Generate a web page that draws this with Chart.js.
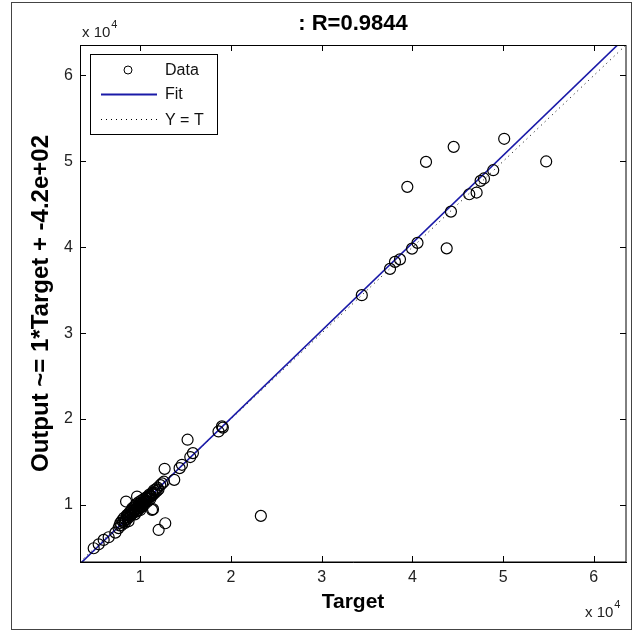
<!DOCTYPE html>
<html>
<head>
<meta charset="utf-8">
<script src="https://cdn.jsdelivr.net/npm/chart.js@4.4.0/dist/chart.umd.min.js"></script>
<style>
  html, body { margin: 0; padding: 0; background: #fff; }
</style>
</head>
<body>
<canvas id="regression" width="633" height="632"></canvas>
<script>
// axis limits (same for both axes, as MATLAB does)
const axisMin = 3350;
const axisMax = 63550;

const tickValues = [10000, 20000, 30000, 40000, 50000, 60000];
const tickLabels = ["1", "2", "3", "4", "5", "6"];

// scatter data
const targetValues = [
  50120, 44550, 41500, 54750, 39440, 48910, 47890, 47520, 47080, 46270,
  44250, 43780, 40560, 39960, 38630, 38080, 37530, 34420,
  19000, 18620, 19100, 15210, 15800, 15510, 14590, 14330, 12680, 13740, 23290,
  11400, 12750, 12020, 8430, 9640, 4860, 5410, 5960, 6510, 7250, 11290,
  7600, 7800, 7900, 8100, 8200, 8300, 8400, 8500, 8600, 8700,
  8800, 8900, 9000, 9000, 9100, 9200, 9300, 9400, 9400, 9500,
  9600, 9700, 9700, 9800, 9900, 10000, 10000, 10100, 10200, 10300,
  10400, 10500, 10600, 10700, 10800, 10900, 11000, 11100, 11200, 11300,
  11400, 11500, 11600, 11700, 11800, 11900, 12000, 12200, 12400, 12600,
  7700, 8000, 8250, 8550, 8750, 8950, 9150, 9350, 9550, 9750,
  9950, 10150, 10350, 10550, 10750, 10950, 11150, 11350, 9250, 9850,
  10450, 8650, 10050, 10650, 11050
];
const outputValues = [
  52630, 51690, 49940, 49990, 47030, 48970, 48010, 47730, 46370, 46170,
  44150, 39870, 40510, 39840, 38590, 38300, 37480, 34420,
  19140, 18550, 19000, 17590, 16030, 15570, 14670, 14280, 14200, 12920, 8720,
  9500, 7860, 7080, 10390, 10970, 4950, 5410, 5920, 6230, 6770, 9420,
  7300, 7900, 7600, 8000, 8500, 7900, 8300, 8800, 8400, 8100,
  9100, 8700, 9300, 8900, 9600, 9100, 9400, 9900, 8900, 9500,
  10100, 9300, 9800, 10300, 9600, 10000, 9400, 10500, 9800, 10200,
  10700, 10100, 10500, 10900, 10400, 10800, 11200, 10700, 11000, 11400,
  11200, 11700, 11400, 11800, 11600, 12000, 11800, 12300, 12500, 12700,
  7600, 8200, 8100, 8600, 8800, 9000, 9000, 9300, 9200, 9600,
  9800, 10000, 10400, 10300, 10700, 11000, 11000, 11300, 9700, 10100,
  10400, 8900, 10200, 10800, 11100
];

// fit line and Y = T line end points
const fitTarget = [3350, 63550];
const fitOutput = [3126, 64500];
const identityTarget = [3350, 63550];
const identityOutput = [3350, 63550];

const fitColor = "#1a1aa8";
const fontFamily = "Arial, 'Liberation Sans', Helvetica, sans-serif";

const toPoints = (xs, ys) => xs.map((x, i) => ({ x: x, y: ys[i] }));

// box, inward ticks, title, exponent labels, legend, outer frame
const matlabDecor = {
  id: "matlabDecor",
  beforeDraw(chart) {
    const ctx = chart.ctx;
    ctx.save();
    ctx.fillStyle = "#fff";
    ctx.fillRect(0, 0, chart.width, chart.height);
    ctx.restore();
  },
  afterDraw(chart) {
    const ctx = chart.ctx;
    const area = chart.chartArea;
    const xs = chart.scales.x;
    const ys = chart.scales.y;
    ctx.save();

    // outer frame
    ctx.strokeStyle = "#444";
    ctx.lineWidth = 1;
    ctx.strokeRect(11.5, 2.5, 620, 627);

    // axes box
    ctx.strokeStyle = "#000";
    ctx.strokeRect(area.left + 0.5, area.top + 0.5, area.right - area.left - 0.5, area.bottom - area.top - 0.5);

    // ticks pointing inward on all four sides
    const tl = 6;
    ctx.beginPath();
    tickValues.forEach(v => {
      const px = Math.round(xs.getPixelForValue(v)) + 0.5;
      ctx.moveTo(px, area.bottom);
      ctx.lineTo(px, area.bottom - tl);
      ctx.moveTo(px, area.top);
      ctx.lineTo(px, area.top + tl);
      const py = Math.round(ys.getPixelForValue(v)) + 0.5;
      ctx.moveTo(area.left, py);
      ctx.lineTo(area.left + tl, py);
      ctx.moveTo(area.right, py);
      ctx.lineTo(area.right - tl, py);
    });
    ctx.stroke();

    // title
    ctx.fillStyle = "#000";
    ctx.font = "bold 22px " + fontFamily;
    ctx.textAlign = "center";
    ctx.textBaseline = "alphabetic";
    ctx.fillText(": R=0.9844", (area.left + area.right) / 2, 30);

    // exponent labels
    ctx.fillStyle = "#222";
    ctx.textAlign = "left";
    ctx.font = "15px " + fontFamily;
    let w = ctx.measureText("x 10").width;
    ctx.fillText("x 10", 82, 37);
    ctx.font = "11px " + fontFamily;
    ctx.fillText("4", 82 + w + 1, 28);
    ctx.font = "15px " + fontFamily;
    ctx.fillText("x 10", 585, 617);
    ctx.font = "11px " + fontFamily;
    ctx.fillText("4", 585 + w + 1, 608);

    // legend
    ctx.fillStyle = "#fff";
    ctx.fillRect(90.5, 54.5, 127, 80);
    ctx.strokeStyle = "#000";
    ctx.lineWidth = 1;
    ctx.strokeRect(90.5, 54.5, 127, 80);

    ctx.beginPath();
    ctx.arc(128, 70, 4, 0, Math.PI * 2);
    ctx.stroke();

    ctx.strokeStyle = fitColor;
    ctx.lineWidth = 2;
    ctx.beginPath();
    ctx.moveTo(101, 94.5);
    ctx.lineTo(157, 94.5);
    ctx.stroke();

    ctx.strokeStyle = "#000";
    ctx.lineWidth = 1;
    ctx.setLineDash([1, 4]);
    ctx.beginPath();
    ctx.moveTo(101, 119.5);
    ctx.lineTo(157, 119.5);
    ctx.stroke();
    ctx.setLineDash([]);

    ctx.fillStyle = "#111";
    ctx.font = "16px " + fontFamily;
    ctx.textBaseline = "middle";
    ctx.fillText("Data", 165, 71);
    ctx.fillText("Fit", 165, 95);
    ctx.fillText("Y = T", 165, 121);

    ctx.restore();
  }
};

new Chart(document.getElementById("regression"), {
  type: "scatter",
  data: {
    datasets: [
      {
        label: "Data",
        data: toPoints(targetValues, outputValues),
        pointRadius: 5.5,
        pointHoverRadius: 5.5,
        pointBorderWidth: 1.2,
        pointBorderColor: "#000",
        pointBackgroundColor: "rgba(0,0,0,0)",
        order: 1
      },
      {
        label: "Fit",
        type: "line",
        data: toPoints(fitTarget, fitOutput),
        borderColor: fitColor,
        borderWidth: 1.6,
        pointRadius: 0,
        fill: false,
        clip: 0,
        order: 2
      },
      {
        label: "Y = T",
        type: "line",
        data: toPoints(identityTarget, identityOutput),
        borderColor: "#000",
        borderWidth: 1,
        borderDash: [1, 4],
        pointRadius: 0,
        fill: false,
        clip: 0,
        order: 3
      }
    ]
  },
  options: {
    responsive: false,
    animation: false,
    events: [],
    layout: { padding: { top: 45, right: 7, left: 0, bottom: 0 } },
    plugins: {
      legend: { display: false },
      tooltip: { enabled: false },
      title: { display: false }
    },
    scales: {
      x: {
        type: "linear",
        min: axisMin,
        max: axisMax,
        afterBuildTicks: s => { s.ticks = tickValues.map(v => ({ value: v })); },
        afterFit: s => { s.height = 70; },
        grid: { display: false, drawTicks: false },
        border: { display: true, color: "#000", width: 1 },
        ticks: {
          padding: 6,
          color: "#222",
          maxRotation: 0,
          autoSkip: false,
          font: { family: fontFamily, size: 16 },
          callback: v => tickLabels[tickValues.indexOf(v)]
        },
        title: {
          display: true,
          text: "Target",
          color: "#000",
          font: { family: fontFamily, size: 21, weight: "bold" },
          padding: { top: 0, bottom: 17 }
        }
      },
      y: {
        type: "linear",
        min: axisMin,
        max: axisMax,
        afterBuildTicks: s => { s.ticks = tickValues.map(v => ({ value: v })); },
        afterFit: s => { s.width = 80; },
        grid: { display: false, drawTicks: false },
        border: { display: true, color: "#000", width: 1 },
        ticks: {
          padding: 7,
          color: "#222",
          autoSkip: false,
          font: { family: fontFamily, size: 16 },
          callback: v => tickLabels[tickValues.indexOf(v)]
        },
        title: {
          display: true,
          text: "Output ~= 1*Target + -4.2e+02",
          color: "#000",
          font: { family: fontFamily, size: 24, weight: "bold" },
          padding: { top: 27, bottom: 0 }
        }
      }
    }
  },
  plugins: [matlabDecor]
});
</script>
</body>
</html>
